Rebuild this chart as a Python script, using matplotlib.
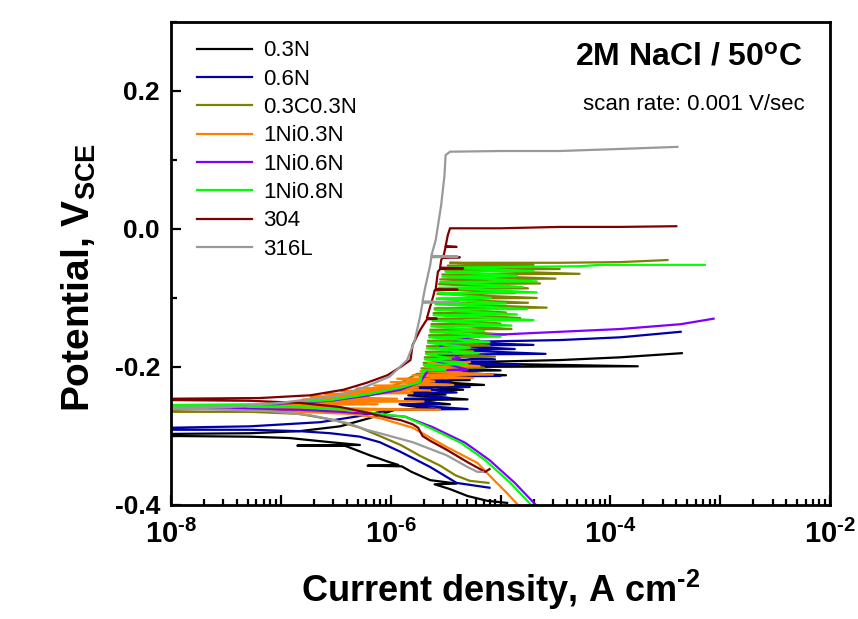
import numpy as np
import matplotlib
matplotlib.use("Agg")
import matplotlib.pyplot as plt
from matplotlib.ticker import LogLocator, MultipleLocator, NullFormatter

plt.rcParams['font.family'] = ['Liberation Sans', 'DejaVu Sans']
plt.rcParams['mathtext.fontset'] = 'custom'
plt.rcParams['mathtext.rm'] = 'Liberation Sans:bold'
plt.rcParams['mathtext.bf'] = 'Liberation Sans:bold'
plt.rcParams['mathtext.it'] = 'Liberation Sans:bold:italic'
plt.rcParams['mathtext.sf'] = 'Liberation Sans:bold'

# series: log10(current density, A/cm2) and potential (V vs SCE)
# each path: cathodic branch from the bottom right up to Ecorr, then the anodic branch
names = ['0.3N', '0.6N', '0.3C0.3N', '1Ni0.3N', '1Ni0.6N', '1Ni0.8N', '304', '316L']
colors = ['#000000', '#0000A8', '#808000', '#FF8000', '#8000FF', '#00FF00', '#800000', '#999999']

logi_03N = [-4.94, -5.12, -5.30, -5.46, -5.60, -5.40, -5.64, -5.81, -5.90, -6.21, -5.93, -6.01, -6.19,
            -6.32, -6.42, -6.85, -6.28, -6.55, -6.92, -7.28, -8.00, -8.20,
            -8.20, -8.00, -7.28, -6.83, -6.46, -6.19, -5.96, -5.60, -5.90, -5.46, -5.87, -5.30, -5.84,
            -5.50, -5.82, -5.34, -5.78, -5.15, -5.74, -5.28, -5.70, -4.95, -5.65, -5.00, -5.60, -3.75,
            -5.55, -4.46, -3.91, -3.35]
e_03N = [-0.397, -0.394, -0.387, -0.377, -0.370, -0.369, -0.364, -0.352, -0.344, -0.343, -0.342, -0.338, -0.328,
         -0.320, -0.314, -0.314, -0.313, -0.309, -0.303, -0.301, -0.300, -0.300,
         -0.297, -0.297, -0.296, -0.293, -0.286, -0.274, -0.262, -0.261, -0.255, -0.254, -0.248, -0.247, -0.241,
         -0.240, -0.234, -0.233, -0.227, -0.226, -0.220, -0.219, -0.213, -0.212, -0.206, -0.205, -0.200, -0.199,
         -0.194, -0.190, -0.186, -0.180]

logi_06N = [-5.10, -5.40, -5.64, -5.91, -6.10, -6.28, -6.55, -6.83, -7.28, -8.00, -8.20,
            -8.20, -8.00, -7.28, -6.64, -6.28, -6.00, -5.30, -5.92, -5.55, -5.87, -5.46, -5.83, -5.40,
            -5.79, -5.28, -5.76, -5.45, -5.73, -5.00, -5.70, -5.20, -5.67, -4.82, -5.63, -5.05, -5.58,
            -4.59, -5.52, -4.87, -5.46, -4.70, -5.44, -4.46, -3.91, -3.36]
e_06N = [-0.375, -0.368, -0.345, -0.323, -0.309, -0.301, -0.296, -0.293, -0.291, -0.291, -0.291,
         -0.289, -0.288, -0.286, -0.280, -0.271, -0.262, -0.261, -0.254, -0.253, -0.246, -0.245, -0.238, -0.237,
         -0.230, -0.229, -0.222, -0.221, -0.214, -0.213, -0.206, -0.205, -0.198, -0.197, -0.190, -0.189, -0.182,
         -0.181, -0.175, -0.174, -0.169, -0.168, -0.164, -0.161, -0.157, -0.149]

logi_03C03N = [-5.11, -5.28, -5.41, -5.55, -5.73, -5.91, -6.10, -6.28, -6.51, -6.83, -7.28, -8.00, -8.20,
               -8.20, -8.00, -7.28, -6.83, -6.37, -6.10, -5.91,
               -5.76, -5.30, -5.72, -5.15, -5.70, -5.35, -5.69, -5.05, -5.68, -5.25, -5.67, -5.10,
               -5.66, -5.20, -5.65, -4.95, -5.64, -4.90, -5.63, -5.00, -5.62, -4.82, -5.61, -4.95,
               -5.60, -4.58, -5.59, -4.75, -5.58, -4.67, -5.575, -4.87, -5.57, -4.75, -5.56, -4.64,
               -5.55, -4.50, -5.53, -4.28, -5.51, -4.46, -5.48, -4.70, -5.46, -5.00, -4.46, -3.91, -3.48]
e_03C03N = [-0.368, -0.365, -0.357, -0.343, -0.329, -0.313, -0.300, -0.288, -0.277, -0.268, -0.265, -0.265, -0.265,
            -0.263, -0.262, -0.259, -0.254, -0.245, -0.235, -0.223,
            -0.210, -0.209, -0.202, -0.201, -0.194, -0.193, -0.186, -0.185, -0.178, -0.177, -0.170, -0.169,
            -0.162, -0.161, -0.154, -0.153, -0.146, -0.145, -0.138, -0.137, -0.130, -0.129, -0.122, -0.121,
            -0.115, -0.114, -0.108, -0.107, -0.101, -0.100, -0.094, -0.093, -0.087, -0.086, -0.080, -0.079,
            -0.073, -0.072, -0.066, -0.065, -0.059, -0.058, -0.053, -0.052, -0.049, -0.049, -0.049, -0.048, -0.045]

logi_1Ni03N = [-4.80, -4.84, -4.94, -5.09, -5.21, -5.49, -5.80, -6.10, -6.37, -6.83, -7.44,
               -5.55, -7.30, -6.50, -7.00, -6.12, -6.92, -5.70, -6.80, -5.94, -6.73, -6.20, -6.60, -5.80,
               -6.45, -5.64, -6.31, -5.75, -6.15, -5.43, -6.00, -5.60, -5.94, -5.25, -5.80, -5.07,
               -5.73, -5.35, -5.69, -5.19, -5.66, -5.28]
e_1Ni03N = [-0.407, -0.400, -0.383, -0.359, -0.339, -0.316, -0.288, -0.274, -0.268, -0.265, -0.262,
            -0.262, -0.258, -0.257, -0.255, -0.254, -0.251, -0.250, -0.247, -0.246, -0.243, -0.242, -0.239, -0.238,
            -0.235, -0.234, -0.231, -0.230, -0.227, -0.226, -0.222, -0.221, -0.217, -0.216, -0.212, -0.211,
            -0.206, -0.205, -0.200, -0.199, -0.194, -0.193]

logi_1Ni06N = [-4.59, -4.66, -4.87, -5.10, -5.32, -5.62, -5.87, -6.19, -6.46, -6.83, -7.28, -8.00, -8.20,
               -8.20, -8.00, -7.19, -6.55, -6.19, -5.91, -5.73, -5.66, -5.30, -5.62, -5.37, -5.55,
               -5.28, -5.00, -4.46, -3.91, -3.36, -3.06]
e_1Ni06N = [-0.410, -0.403, -0.368, -0.335, -0.310, -0.287, -0.272, -0.268, -0.265, -0.262, -0.261, -0.259, -0.259,
            -0.258, -0.257, -0.255, -0.249, -0.241, -0.233, -0.222, -0.205, -0.204, -0.190, -0.188, -0.170,
            -0.157, -0.153, -0.149, -0.145, -0.138, -0.130]

logi_1Ni08N = [-4.68, -4.72, -4.91, -5.14, -5.36, -5.66, -5.87, -6.10, -6.37, -6.83, -7.28, -8.00, -8.20,
               -8.20, -8.00, -7.19, -6.55, -6.19, -5.91, -5.73,
               -5.71, -5.50, -5.70, -5.30, -5.69, -5.45, -5.68, -5.20, -5.67, -5.28, -5.66, -5.10,
               -5.65, -5.00, -5.64, -5.15, -5.63, -4.90, -5.62, -4.70, -5.61, -4.85, -5.60, -4.76,
               -5.59, -4.95, -5.58, -5.09, -5.57, -4.67, -5.56, -4.80, -5.55, -4.67, -5.53, -4.85,
               -5.50, -4.70, -5.47, -4.28, -4.09, -3.64, -3.14]
e_1Ni08N = [-0.407, -0.400, -0.368, -0.335, -0.310, -0.287, -0.272, -0.268, -0.262, -0.258, -0.257, -0.257, -0.257,
            -0.256, -0.255, -0.254, -0.248, -0.239, -0.230, -0.222,
            -0.205, -0.204, -0.197, -0.196, -0.189, -0.188, -0.181, -0.180, -0.173, -0.172, -0.165, -0.164,
            -0.157, -0.156, -0.149, -0.148, -0.141, -0.140, -0.133, -0.132, -0.125, -0.124, -0.117, -0.116,
            -0.109, -0.108, -0.101, -0.100, -0.093, -0.092, -0.085, -0.084, -0.077, -0.076, -0.069, -0.068,
            -0.062, -0.061, -0.056, -0.054, -0.052, -0.052, -0.052]

logi_304 = [-5.10, -5.14, -5.30, -5.49, -5.64, -5.71, -5.75, -5.80, -5.91, -6.01, -6.19, -6.46, -6.83,
            -7.28, -8.00, -8.20,
            -8.20, -8.00, -7.19, -6.73, -6.43, -6.22, -6.03, -5.91, -5.82, -5.80, -5.73, -5.67, -5.58,
            -5.67, -5.61, -5.60, -5.39, -5.59, -5.57, -5.55, -5.34, -5.55, -5.54, -5.53, -5.37, -5.52,
            -5.50, -5.40, -5.50, -5.48, -5.46, -5.00, -4.46, -3.91, -3.40]
e_304 = [-0.348, -0.352, -0.338, -0.320, -0.307, -0.300, -0.288, -0.283, -0.277, -0.274, -0.267, -0.258, -0.252,
         -0.249, -0.248, -0.248,
         -0.247, -0.246, -0.245, -0.241, -0.233, -0.223, -0.212, -0.200, -0.190, -0.168, -0.146, -0.131, -0.130,
         -0.129, -0.096, -0.089, -0.088, -0.087, -0.062, -0.058, -0.057, -0.056, -0.045, -0.042, -0.041, -0.040,
         -0.026, -0.026, -0.025, -0.009, 0.001, 0.001, 0.003, 0.003, 0.004]

logi_316L = [-5.16, -5.21, -5.30, -5.49, -5.80, -6.10, -6.22, -6.40, -6.73, -7.10, -7.49, -8.00, -8.20,
             -8.20, -8.00, -7.46, -7.01, -6.49, -6.25, -6.01, -5.85, -5.78, -5.73, -5.71, -5.37, -5.71,
             -5.69, -5.64, -5.63, -5.39, -5.63, -5.59, -5.54, -5.51, -5.50, -5.46, -5.00, -4.46, -3.91, -3.39]
e_316L = [-0.352, -0.352, -0.345, -0.328, -0.309, -0.296, -0.291, -0.281, -0.270, -0.264, -0.262, -0.261, -0.261,
          -0.260, -0.259, -0.258, -0.252, -0.242, -0.230, -0.214, -0.190, -0.161, -0.125, -0.107, -0.106, -0.105,
          -0.088, -0.052, -0.041, -0.040, -0.039, -0.016, 0.035, 0.078, 0.107, 0.112, 0.113, 0.113, 0.116, 0.119]

logi_all = [logi_03N, logi_06N, logi_03C03N, logi_1Ni03N, logi_1Ni06N, logi_1Ni08N, logi_304, logi_316L]
e_all = [e_03N, e_06N, e_03C03N, e_1Ni03N, e_1Ni06N, e_1Ni08N, e_304, e_316L]

xticks = [1e-8, 1e-7, 1e-6, 1e-5, 1e-4, 1e-3, 1e-2]
xtick_labels = [r'$10^{\text{-}8}$', '', r'$10^{\text{-}6}$', '', r'$10^{\text{-}4}$', '', r'$10^{\text{-}2}$']
yticks = [-0.4, -0.2, 0.0, 0.2]
ytick_labels = ['-0.4', '-0.2', '0.0', '0.2']

fig = plt.figure(figsize=(8.58, 6.19), dpi=100)
ax = fig.add_axes([0.1993, 0.1842, 0.7681, 0.7803])

for nm, col, li, ee in zip(names, colors, logi_all, e_all):
    ax.plot(np.power(10.0, li), ee, color=col, lw=1.6, label=nm)

ax.set_xscale('log')
ax.set_xlim(1e-8, 1e-2)
ax.set_ylim(-0.4, 0.3)

ax.set_xticks(xticks, xtick_labels)
ax.xaxis.set_minor_locator(LogLocator(base=10, subs=np.arange(2, 10), numticks=20))
ax.xaxis.set_minor_formatter(NullFormatter())
ax.set_yticks(yticks, ytick_labels)
ax.yaxis.set_minor_locator(MultipleLocator(0.1))

ax.tick_params(which='both', direction='in', top=False, right=False, width=1.6)
ax.tick_params(which='major', length=7)
ax.tick_params(which='minor', length=4)
ax.tick_params(axis='y', which='major', labelsize=19, pad=8)
ax.tick_params(axis='x', which='major', labelsize=21, pad=11)
for lab in ax.get_yticklabels():
    lab.set_fontweight('bold')
for sp in ax.spines.values():
    sp.set_linewidth(2)

ax.set_ylabel(r'Potential, V$_{\mathrm{SCE}}$', fontsize=28, fontweight='bold')
ax.yaxis.set_label_coords(-0.111, 0.471)
ax.set_xlabel(r'Current density, A cm$^{\text{-}2}$', fontsize=26, fontweight='bold')
ax.xaxis.set_label_coords(0.5, -0.13)

ax.legend(loc='upper left', bbox_to_anchor=(0.0395, 0.962), frameon=False, fontsize=16,
          borderpad=0, borderaxespad=0, labelspacing=0.33, handlelength=2.48, handletextpad=0.5)

ax.text(0.9575, 0.911, r'2M NaCl / 50$^{\mathrm{o}}$C', transform=ax.transAxes, ha='right',
        va='baseline', fontsize=23, fontweight='bold')
ax.text(0.962, 0.818, 'scan rate: 0.001 V/sec', transform=ax.transAxes, ha='right',
        va='baseline', fontsize=16)

fig.savefig('out.png', dpi=100)
